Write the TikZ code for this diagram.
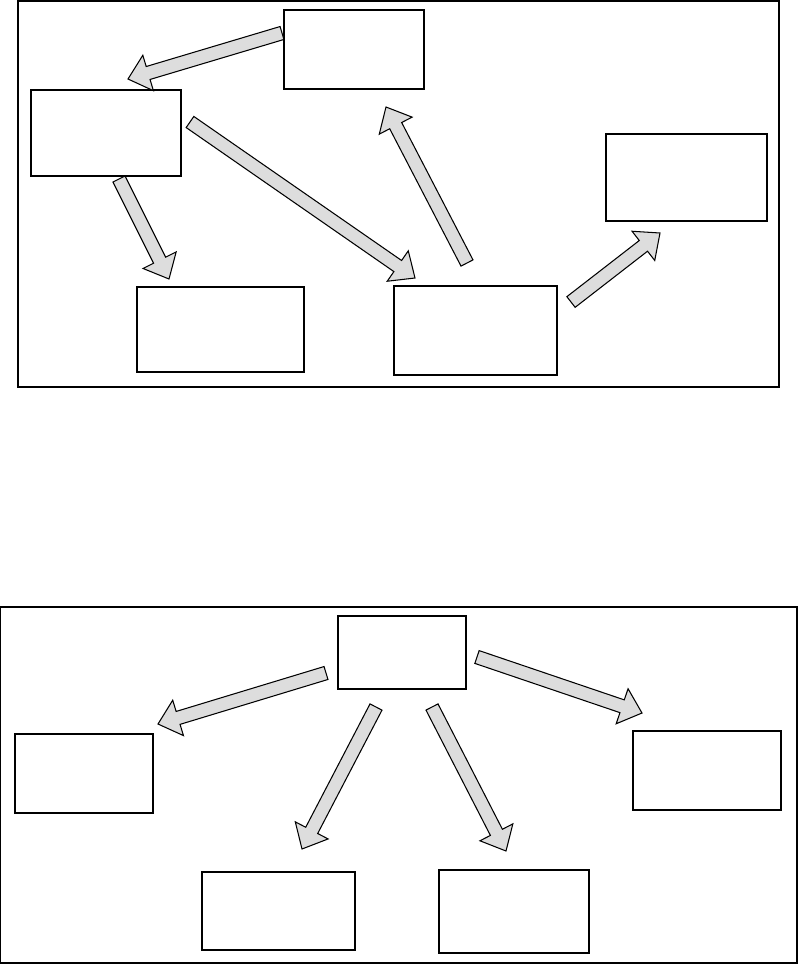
\documentclass[tikz,border=0pt]{standalone}
\usetikzlibrary{calc}

% block arrow from tail coordinate #1 to tip coordinate #2
\newcommand{\flowarrow}[2]{%
    \coordinate (hb) at ($(#2)!0.42cm!(#1)$);
    \draw[blockarrow]
        ($(#1)!0.135cm!90:(#2)$) -- ($(hb)!0.135cm!90:(#2)$) --
        ($(hb)!0.37cm!90:(#2)$) -- (#2) --
        ($(hb)!0.37cm!-90:(#2)$) -- ($(hb)!0.135cm!-90:(#2)$) --
        ($(#1)!0.135cm!-90:(#2)$) -- cycle;
}

\begin{document}
\begin{tikzpicture}[
    % Styles
    box/.style={
        rectangle, draw=black, fill=white,
        line width=1.1pt, inner sep=0pt
    },
    blockarrow/.style={
        draw=black, fill=arrowgray,
        line width=0.6pt, line join=miter
    },
]
% Define colors
\definecolor{arrowgray}{RGB}{221,221,221}

\useasboundingbox (0,0) rectangle (15.96,-19.28);

% Upper panel frame
\draw[line width=0.7pt] (0.36,-0.02) rectangle (15.58,-7.74);

% Upper panel boxes
\node[box, minimum width=2.8cm, minimum height=1.58cm] (ptop) at (7.08,-0.99) {};
\node[box, minimum width=3.0cm, minimum height=1.72cm] (pleft) at (2.12,-2.66) {};
\node[box, minimum width=3.34cm, minimum height=1.7cm] (pbotl) at (4.41,-6.59) {};
\node[box, minimum width=3.26cm, minimum height=1.78cm] (pbotm) at (9.51,-6.61) {};
\node[box, minimum width=3.22cm, minimum height=1.74cm] (pright) at (13.73,-3.55) {};

% Upper panel arrow ends
\coordinate (ptop-out) at (5.64,-0.66);
\coordinate (pleft-in) at (2.56,-1.58);
\coordinate (pleft-out1) at (3.80,-2.44);
\coordinate (pbotm-in) at (8.30,-5.56);
\coordinate (pleft-out2) at (2.38,-3.58);
\coordinate (pbotl-in) at (3.38,-5.58);
\coordinate (pbotm-out1) at (9.34,-5.26);
\coordinate (ptop-in) at (7.72,-2.14);
\coordinate (pbotm-out2) at (11.42,-6.04);
\coordinate (pright-in) at (13.20,-4.66);

% Upper panel arrows
\flowarrow{ptop-out}{pleft-in}
\flowarrow{pleft-out1}{pbotm-in}
\flowarrow{pleft-out2}{pbotl-in}
\flowarrow{pbotm-out1}{ptop-in}
\flowarrow{pbotm-out2}{pright-in}

% Lower panel frame
\draw[line width=1.1pt] (0,-12.14) rectangle (15.94,-19.26);

% Lower panel boxes
\node[box, minimum width=2.56cm, minimum height=1.46cm] (qtop) at (8.04,-13.05) {};
\node[box, minimum width=2.76cm, minimum height=1.58cm] (qleft) at (1.68,-15.47) {};
\node[box, minimum width=3.06cm, minimum height=1.56cm] (qbotl) at (5.57,-18.22) {};
\node[box, minimum width=3.0cm, minimum height=1.66cm] (qbotr) at (10.28,-18.23) {};
\node[box, minimum width=2.96cm, minimum height=1.58cm] (qright) at (14.14,-15.41) {};

% Lower panel arrow ends
\coordinate (qtop-out1) at (6.52,-13.46);
\coordinate (qleft-in) at (3.16,-14.48);
\coordinate (qtop-out2) at (7.52,-14.14);
\coordinate (qbotl-in) at (6.04,-16.98);
\coordinate (qtop-out3) at (8.64,-14.14);
\coordinate (qbotr-in) at (10.12,-17.02);
\coordinate (qtop-out4) at (9.54,-13.14);
\coordinate (qright-in) at (12.84,-14.26);

% Lower panel arrows
\flowarrow{qtop-out1}{qleft-in}
\flowarrow{qtop-out2}{qbotl-in}
\flowarrow{qtop-out3}{qbotr-in}
\flowarrow{qtop-out4}{qright-in}

\end{tikzpicture}
\end{document}
